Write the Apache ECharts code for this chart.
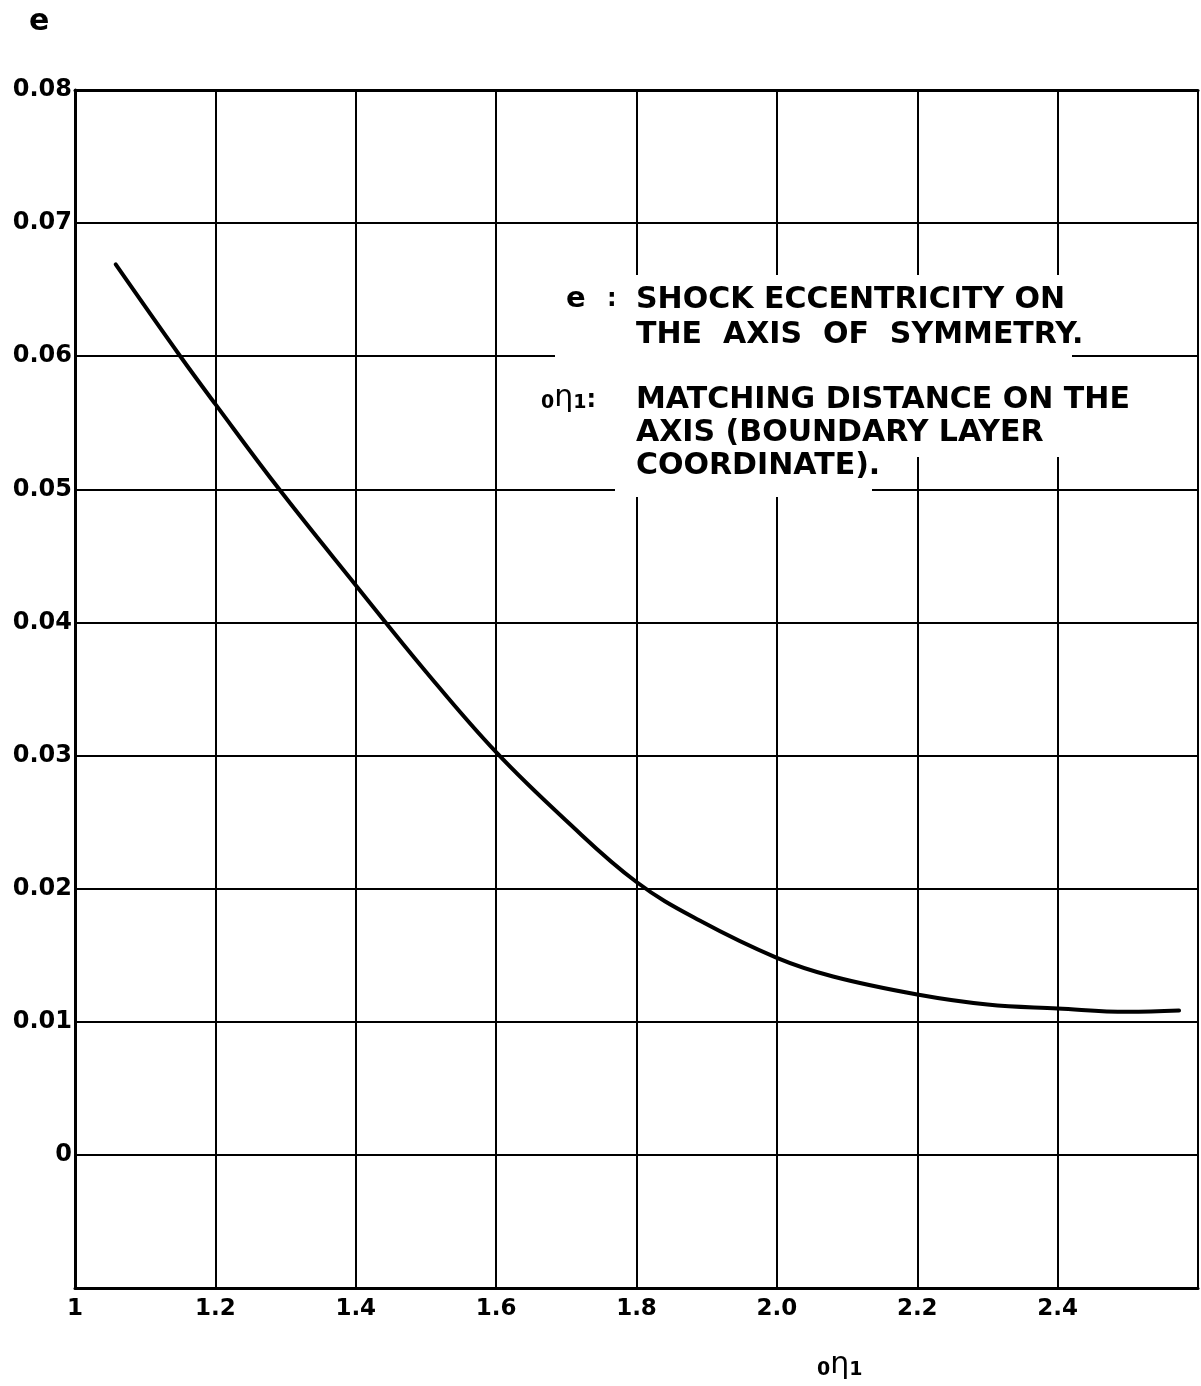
<!DOCTYPE html>
<html><head><meta charset="utf-8">
<script src="https://cdn.jsdelivr.net/npm/echarts@6/dist/echarts.min.js"></script>
<style>html,body{margin:0;padding:0;background:#fff}#c{width:1201px;height:1386px}</style>
</head><body><div id="c"></div>
<script>
// matching distance on the axis (x) and shock eccentricity (y)
const etaValues = [1.058, 1.15, 1.20, 1.291, 1.40, 1.50, 1.60, 1.70, 1.80, 1.89, 2.00, 2.08, 2.20, 2.30, 2.40, 2.50, 2.573];
const eValues   = [0.0669, 0.0600, 0.0564, 0.0500, 0.0428, 0.0363, 0.03025, 0.0251, 0.0205, 0.0176, 0.0148, 0.0134, 0.01205, 0.0113, 0.0110, 0.01075, 0.01085];
const xTickLabels = ['1', '1.2', '1.4', '1.6', '1.8', '2.0', '2.2', '2.4', ''];
const yTickLabels = ['', '0', '0.01', '0.02', '0.03', '0.04', '0.05', '0.06', '0.07', '0.08'];
const legendLines1 = ['SHOCK ECCENTRICITY ON', 'THE  AXIS  OF  SYMMETRY.'];
const legendLines2 = ['MATCHING DISTANCE ON THE', 'AXIS (BOUNDARY LAYER', 'COORDINATE).'];

const FONT = 'DejaVu Sans';
const chart = echarts.init(document.getElementById('c'), null, {renderer: 'canvas'});
const seriesData = etaValues.map((x, i) => [x, eValues[i]]);

const txt = (x, y, text, size, weight) => ({
  type: 'text', x: x, y: y, z: 120,
  style: {text: text, fill: '#000', fontFamily: FONT, fontSize: size, fontWeight: weight || 'normal', textVerticalAlign: 'middle'}
});
const rect = (x, y, w, h) => ({type: 'rect', z: 110, shape: {x: x, y: y, width: w, height: h}, style: {fill: '#fff'}});
const etaRich = {
  s: {fontFamily: FONT, fontSize: 19, fontWeight: 'bold', fill: '#000', verticalAlign: 'bottom', lineHeight: 30},
  g: {fontFamily: FONT, fontSize: 30, fill: '#000', verticalAlign: 'bottom', lineHeight: 30},
  c: {fontFamily: FONT, fontSize: 24, fontWeight: 'bold', fill: '#000', verticalAlign: 'bottom', lineHeight: 30}
};

const option = {
  backgroundColor: '#fff',
  animation: false,
  grid: {left: 75, right: 2, top: 90, bottom: 98},
  xAxis: [{
    type: 'value', min: 1, max: 2.6, interval: 0.2,
    axisLine: {show: true, onZero: false, lineStyle: {color: '#000', width: 3}},
    axisTick: {show: false},
    splitLine: {show: true, lineStyle: {color: '#000', width: 2}},
    axisLabel: {
      color: '#000', fontFamily: FONT, fontSize: 23, fontWeight: 'bold', margin: 10,
      formatter: v => xTickLabels[Math.round((v - 1) / 0.2)] || ''
    }
  }, {
    type: 'value', position: 'top', min: 1, max: 2.6, interval: 0.2,
    axisLine: {show: true, onZero: false, lineStyle: {color: '#000', width: 3}},
    axisTick: {show: false}, axisLabel: {show: false}, splitLine: {show: false}
  }],
  yAxis: {
    type: 'value', min: -0.01, max: 0.08, interval: 0.01,
    axisLine: {show: true, onZero: false, lineStyle: {color: '#000', width: 3}},
    axisTick: {show: false},
    splitLine: {show: true, lineStyle: {color: '#000', width: 2}},
    axisLabel: {
      color: '#000', fontFamily: FONT, fontSize: 24, fontWeight: 'bold', margin: 3,
      formatter: v => yTickLabels[Math.round((v + 0.01) / 0.01)] || ''
    }
  },
  series: [{
    type: 'line', data: seriesData, showSymbol: false, smooth: 0.4, z: 5,
    lineStyle: {color: '#000', width: 4, cap: 'round'}
  }],
  graphic: [
    rect(555, 275, 517, 86),
    rect(540, 361, 605, 96),
    rect(615, 457, 257, 40),
    txt(566, 299, 'e', 29, 'bold'),
    txt(607, 300, ':', 24, 'bold'),
    txt(636, 300, legendLines1[0], 30, 'bold'),
    txt(636, 335, legendLines1[1], 30, 'bold'),
    {type: 'text', x: 541, y: 398, z: 120, style: {
      text: '{s|0}{g|η}{s|1}{c|:}', textVerticalAlign: 'middle', rich: etaRich
    }},
    txt(636, 400, legendLines2[0], 30, 'bold'),
    txt(636, 433, legendLines2[1], 30, 'bold'),
    txt(636, 466, legendLines2[2], 30, 'bold'),
    txt(29, 22, 'e', 30, 'bold'),
    {type: 'text', x: 817, y: 1365, z: 120, style: {
      text: '{s|0}{g|η}{s|1}', textVerticalAlign: 'middle', rich: etaRich
    }}
  ]
};
chart.setOption(option);
</script>
</body></html>
